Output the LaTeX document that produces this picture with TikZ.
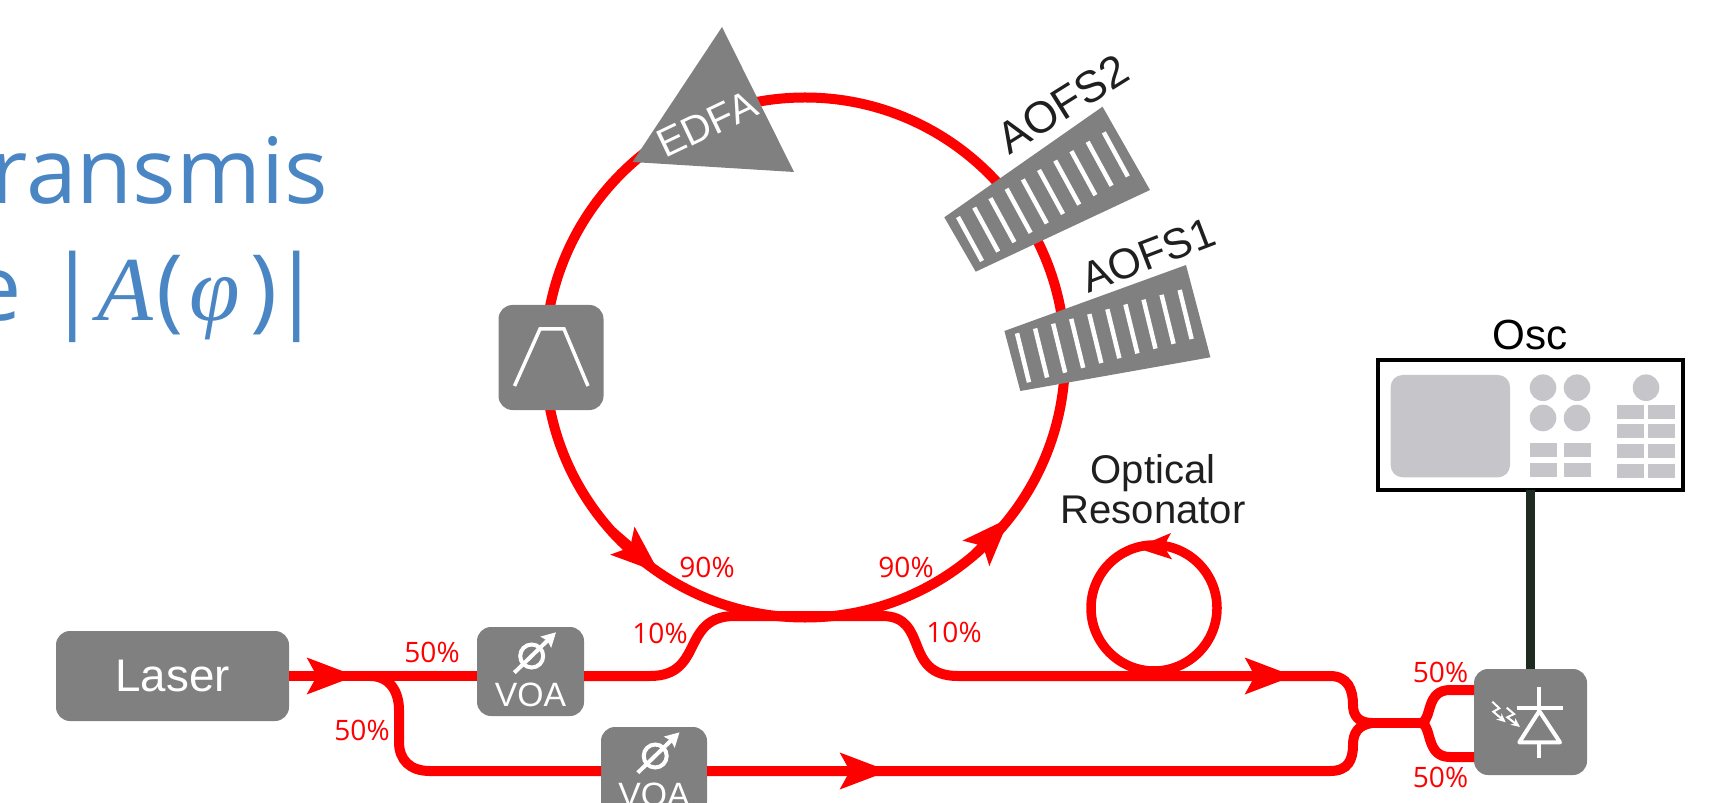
\documentclass[tikz,border=0pt]{standalone}
\usepackage{fontspec}
\setmainfont{Liberation Sans}
\newfontfamily\titlefont{Open Sans}
\newfontfamily\formulafont{Liberation Serif}
\usetikzlibrary{arrows.meta,positioning}

\definecolor{boxgray}{HTML}{808080}
\definecolor{panelgray}{HTML}{C5C5CA}
\definecolor{titleblue}{HTML}{4A86C4}
\definecolor{cablegray}{HTML}{1F2A20}

\tikzset{
  fiber/.style={draw=red, line width=.1cm},
  fiberarrow/.style={fiber, -{Stealth[length=.48cm, width=.35cm, inset=.09cm]}},
  graybox/.style={fill=boxgray, rounded corners=.14cm, inner sep=0pt, outer sep=0pt, text=white},
  icon/.style={draw=white, line width=.035cm},
  pct/.style={text=red, inner sep=0pt, font=\titlefont\fontsize{8}{8}\selectfont},
  title/.style={anchor=base east, inner sep=0pt, text=titleblue, font=\titlefont\fontsize{26}{26}\selectfont},
  device/.style={inner sep=0pt, text=black!88, font=\fontsize{12.6}{12.6}\selectfont},
  panel/.style={fill=panelgray},
}

\begin{document}
\begin{tikzpicture}[x=1cm, y=-1cm]
        \useasboundingbox (0,0) rectangle (17.24,8.03);
        \clip (0,0) rectangle (17.24,8.03);

        % title, cut off by the slide
        \node[title] (titleA) at (3.29,2.04) {ransmis};
        \node[title] (titleB) at (3.226,3.21) {e\hspace{.02cm} |{\formulafont\itshape A}\hspace{.033cm}(\hspace{.055cm}{\formulafont\itshape φ}\hspace{.1cm})\hspace{-.055cm}|};

        % ring
        \node[circle, fiber, minimum size=5.2cm, inner sep=0pt, outer sep=0pt] (ring) at (8.05,3.575) {};
        \draw[fiberarrow] (ring.222) -- (ring.236.7);
        \draw[fiberarrow] (ring.311) -- (ring.322);

        % boxes
        \node[graybox, minimum width=2.33cm, minimum height=.9cm, font=\fontsize{13}{13}\selectfont] (laser) at (1.725,6.76) {Laser};
        \node[graybox, minimum width=1.07cm, minimum height=.89cm] (voaA) at (5.305,6.715) {};
        \node[graybox, minimum width=1.06cm, minimum height=.89cm] (voaB) at (6.54,7.715) {};
        \node[graybox, minimum width=1.05cm, minimum height=1.05cm] (filter) at (5.51,3.575) {};
        \node[graybox, minimum width=1.13cm, minimum height=1.06cm] (pd) at (15.305,7.22) {};

        % resonator
        \node[circle, draw=red, line width=.095cm, minimum size=1.26cm, inner sep=0pt, outer sep=0pt] (res) at (11.54,6.08) {};
        \draw[draw=red, line width=.095cm, -{Stealth[length=.35cm, width=.25cm, inset=.07cm]}] (res.78) -- (res.107);
        \node[inner sep=0pt, align=center, text=black!88, font=\fontsize{11.4}{10}\selectfont] (resname) at (11.53,4.89) {Optical\\Resonator};

        % fibers
        \coordinate (tipA) at (3.56,6.76);
        \coordinate (tipB) at (12.94,6.76);
        \coordinate (tipC) at (8.89,7.71);
        \coordinate (join) at (13.72,7.23);
        \coordinate (split) at (14.22,7.23);
        \draw[fiber] (laser.east) -- (voaA.west |- tipA);
        \draw[fiberarrow] (laser.east) -- (tipA);
        \draw[fiber] (voaA.east |- tipA) -- (6.5,6.76) .. controls (7.05,6.76) and (6.8,6.16) .. (7.35,6.16) -- (8.82,6.16) .. controls (9.3,6.16) and (9.02,6.76) .. (9.58,6.76) -- (13.3,6.76) .. controls (13.48,6.76) and (13.53,6.9) .. (13.53,7.05) .. controls (13.53,7.15) and (13.58,7.23) .. (join);
        \draw[fiberarrow] (9.9,6.76) -- (tipB);
        \draw[fiber] (3.7,6.76) .. controls (3.9,6.76) and (3.99,6.92) .. (3.99,7.1) -- (3.99,7.42) .. controls (3.99,7.6) and (4.1,7.71) .. (4.3,7.71) -- (voaB.west |- tipC);
        \draw[fiber] (voaB.east |- tipC) -- (13.3,7.71) .. controls (13.48,7.71) and (13.53,7.6) .. (13.53,7.45) .. controls (13.53,7.33) and (13.58,7.25) .. (join);
        \draw[fiberarrow] (voaB.east |- tipC) -- (tipC);
        \draw[fiber] (join) -- (split);
        \draw[fiber] (split) .. controls (14.32,7.18) and (14.26,6.9) .. (14.5,6.9) -- (pd.west |- 14.5,6.9);
        \draw[fiber] (split) .. controls (14.32,7.28) and (14.26,7.57) .. (14.5,7.57) -- (pd.west |- 14.5,7.57);

        % splitting ratios
        \node[pct] (pctA) at (7.07,5.67) {90\%};
        \node[pct] (pctB) at (9.06,5.67) {90\%};
        \node[pct] (pctC) at (6.60,6.33) {10\%};
        \node[pct] (pctD) at (9.54,6.325) {10\%};
        \node[pct] (pctE) at (4.32,6.52) {50\%};
        \node[pct] (pctF) at (3.62,7.30) {50\%};
        \node[pct] (pctG) at (14.405,6.725) {50\%};
        \node[pct] (pctH) at (14.405,7.775) {50\%};

        % EDFA
        \fill[boxgray] (7.22,.27) -- (7.94,1.72) -- (6.325,1.62) -- cycle;
        \node[rotate=25.5, text=white, inner sep=0pt, font=\fontsize{11.4}{11.4}\selectfont] (edfa) at (7.07,1.24) {EDFA};

        % filter icon
        \draw[icon] (5.145,3.86) -- (5.40,3.29) -- (5.64,3.29) -- (5.88,3.86);

        % AOFS2
        \fill[boxgray] (11.025,1.067) -- (11.5,1.9) -- (9.757,2.717) -- (9.443,2.173) -- cycle;
        \foreach \i in {0,...,9}
          \draw[white, line width=.045cm] ({9.58+.162*\i},{2.17-.094*\i}) -- ++(.24,.44);
        \node[rotate=32, device] (aofsB) at (10.63,1.04) {AOFS2};

        % AOFS1
        \fill[boxgray] (11.86,2.65) -- (12.104,3.573) -- (10.203,3.91) -- (10.044,3.31) -- cycle;
        \foreach \i in {0,...,9}
          \draw[white, line width=.045cm] ({10.17+.1807*\i},{3.333-.0481*\i}) -- ++(.12,.49);
        \node[rotate=21, device, font=\fontsize{12.1}{12.1}\selectfont] (aofsA) at (11.48,2.55) {AOFS1};

        % VOA icons
        \foreach \n in {voaA,voaB} {
          \begin{scope}[shift={(\n.center)}]
            \draw[draw=white, line width=.04cm] (.012,-.155) circle[radius=.115];
            \draw[draw=white, line width=.04cm, -{Stealth[length=.14cm, width=.15cm, inset=.02cm]}] (-.162,.012) -- (.255,-.392);
            \node[text=white, inner sep=0pt, font=\fontsize{9.6}{9.6}\selectfont] (\n name) at (0,.235) {VOA};
          \end{scope}
        }

        % oscilloscope
        \node[inner sep=0pt, outer sep=0pt, draw=black, line width=.035cm, minimum width=3.05cm, minimum height=1.30cm] (osc) at (15.305,4.25) {};
        \node[inner sep=0pt, text=black, font=\fontsize{12}{12}\selectfont] (oscname) at (15.30,3.35) {Osc};
        \fill[panel, rounded corners=.12cm] (13.906,3.75) rectangle (15.10,4.773);
        \foreach \x in {15.43,15.77}
          \foreach \y in {3.877,4.18}
            \fill[panel] (\x,\y) circle[radius=.133];
        \fill[panel] (16.46,3.877) circle[radius=.133];
        \foreach \x in {15.30,15.64}
          \foreach \y in {4.427,4.627}
            \fill[panel] (\x,\y) rectangle ++(.27,.14);
        \foreach \x in {16.17,16.48}
          \foreach \y in {4.05,4.24,4.44,4.64}
            \fill[panel] (\x,\y) rectangle ++(.27,.14);

        % cable
        \draw[cablegray, line width=.09cm] (osc.south) -- (pd.north);

        % photodiode icon
        \draw[icon, line width=.04cm] (15.393,6.867) -- (15.393,7.11);
        \draw[icon, line width=.04cm] (15.167,7.083) -- (15.627,7.083);
        \draw[icon, line width=.04cm, line join=round] (15.393,7.11) -- (15.60,7.423) -- (15.193,7.423) -- cycle;
        \draw[icon, line width=.04cm] (15.393,7.423) -- (15.393,7.577);
        \draw[white, line width=.02cm, -{Stealth[length=.09cm, width=.08cm]}] (14.923,7.017) -- (14.993,7.083) -- (14.933,7.117) -- (15.057,7.223);
        \draw[white, line width=.02cm, -{Stealth[length=.09cm, width=.08cm]}] (15.067,7.077) -- (15.14,7.14) -- (15.073,7.173) -- (15.20,7.27);
\end{tikzpicture}
\end{document}
